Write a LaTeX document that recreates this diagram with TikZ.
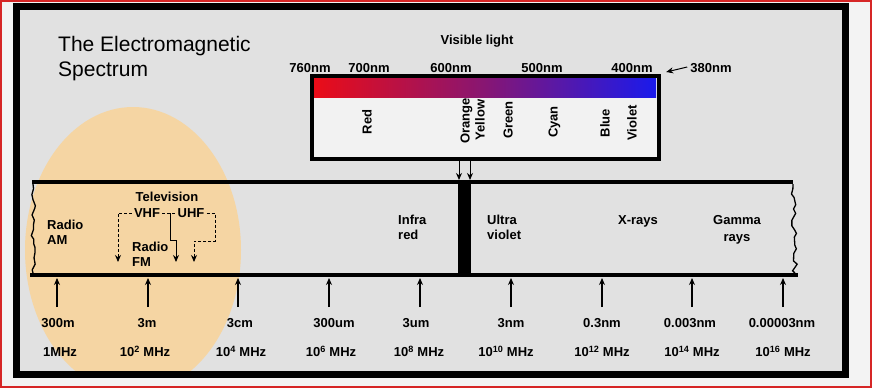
\documentclass[tikz,border=0pt]{standalone}
\usepackage{fontspec}
\setmainfont{Liberation Sans}
\usetikzlibrary{arrows.meta,decorations.pathmorphing}
\definecolor{outerbg}{RGB}{243,243,243}
\definecolor{innerbg}{RGB}{225,225,225}
\definecolor{peach}{RGB}{245,213,163}
\definecolor{edgered}{RGB}{214,38,38}
\definecolor{specred}{RGB}{236,12,22}
\definecolor{specmid}{RGB}{136,22,114}
\definecolor{specblue}{RGB}{26,26,236}
\definecolor{boxfill}{RGB}{242,242,242}
\begin{document}
\begin{tikzpicture}[x=1pt,y=-1pt,
  lbl/.style={font=\fontsize{13}{15}\selectfont\bfseries, inner sep=0pt, text height=9.3pt, text depth=0pt},
  ttl/.style={font=\fontsize{21}{25}\selectfont, inner sep=0pt, anchor=base west},
  tip/.style={-{Stealth[length=7pt,width=6pt]}},
  upar/.style={line width=1.1pt, tip},
  dnar/.style={line width=1pt, tip},
  bandline/.style={line width=4pt},
  wavy/.style={line width=1.3pt, decorate, decoration={random steps, segment length=5pt, amplitude=2.4pt}},
  tvline/.style={line width=1pt, densely dashed},
  tvsolid/.style={line width=1pt}
]
\useasboundingbox (0,0) rectangle (872,388);
\fill[outerbg] (0,0) rectangle (872,388);
\draw[edgered, line width=2pt] (1,1) rectangle (871,387);
\fill[innerbg] (16,6) rectangle (845,374);
\begin{scope}
  \clip (20,10) rectangle (841,370);
  \fill[peach] (133,250) ellipse [x radius=108, y radius=143];
\end{scope}
\draw[line width=7pt] (16.5,6) rectangle (845,374);

% title
\node[ttl] (t1) at (58,51) {The Electromagnetic};
\node[ttl] (t2) at (58,76) {Spectrum};

% visible light
\node[lbl] (vis) at (477,40) {Visible light};
\node[lbl] (nm760) at (310,68) {760nm};
\node[lbl] (nm700) at (369,68) {700nm};
\node[lbl] (nm600) at (451,68) {600nm};
\node[lbl] (nm500) at (542,68) {500nm};
\node[lbl] (nm400) at (632,68) {400nm};
\node[lbl] (nm380) at (711,68) {380nm};
\draw[dnar] ([xshift=-3pt,yshift=1pt]nm380.west) -- ++(-21,5);

\fill[boxfill] (310,74) rectangle (657,157);
\shade[left color=specred, right color=specblue, middle color=specmid] (311,76) rectangle (656,97);
\node[draw, line width=3.5pt, minimum width=347pt, minimum height=83pt, inner sep=0pt, anchor=north west] (vbox) at (310,74) {};

\node[lbl, rotate=90] (cred) at (367,122) {Red};
\node[lbl, rotate=90] (corange) at (465,121) {Orange};
\node[lbl, rotate=90] (cyellow) at (480,120) {Yellow};
\node[lbl, rotate=90] (cgreen) at (508,120) {Green};
\node[lbl, rotate=90] (ccyan) at (553,122) {Cyan};
\node[lbl, rotate=90] (cblue) at (605,123) {Blue};
\node[lbl, rotate=90] (cviolet) at (632,123) {Violet};

% band
\draw[bandline] (32,182) -- (793,182);
\draw[bandline] (30,275) -- (798,275);
\pgfmathsetseed{7}
\draw[wavy] (33,184) -- (33,273);
\draw[wavy] (793,184) -- (795,273);
\fill (458,180) rectangle (471,277);

\coordinate (o1) at (459,158);
\coordinate (o2) at (470,158);
\coordinate (i1) at (459,180);
\coordinate (i2) at (470,180);
\draw[dnar] (o1) -- (i1);
\draw[dnar] (o2) -- (i2);

% band labels
\node[lbl, anchor=west] (am1) at (47,225) {Radio};
\node[lbl, anchor=west] (am2) at (47,240) {AM};
\node[lbl] (tv) at (167,197) {Television};
\node[lbl] (vhf) at (147,213) {VHF};
\node[lbl] (uhf) at (191,213) {UHF};
\node[lbl, anchor=west] (fm1) at (132,247) {Radio};
\node[lbl, anchor=west] (fm2) at (132,262) {FM};
\coordinate (vl) at (118,262);
\draw[tvline, tip] ([xshift=-2pt]vhf.west) -| (vl);
\draw[tvline] ([xshift=2pt]vhf.east) -- ([xshift=-2pt]uhf.west);
\coordinate (tj) at (170,213);
\coordinate (tend) at (176,262);
\draw[tvsolid, tip] (tj) -- (170,240) -| (tend);
\coordinate (ur) at (215,213);
\coordinate (uend) at (194,262);
\draw[tvline, tip] ([xshift=2pt]uhf.east) -- (ur) -- (215,241) -| (uend);

\node[lbl, anchor=west] (ir1) at (398,220) {Infra};
\node[lbl, anchor=west] (ir2) at (398,235) {red};
\node[lbl, anchor=west] (uv1) at (487,220) {Ultra};
\node[lbl, anchor=west] (uv2) at (487,235) {violet};
\node[lbl] (xr) at (638,220) {X-rays};
\node[lbl] (gr1) at (737,220) {Gamma};
\node[lbl] (gr2) at (737,237) {rays};

% scale
\foreach \x/\wx/\w/\fx/\f [count=\i] in {
  57/58/300m/60/1MHz,
  148/147/3m/145/10\textsuperscript{2} MHz,
  238/240/3cm/241/10\textsuperscript{4} MHz,
  329/334/300um/331/10\textsuperscript{6} MHz,
  420/416/3um/419/10\textsuperscript{8} MHz,
  511/511/3nm/506/10\textsuperscript{10} MHz,
  602/602/0.3nm/602/10\textsuperscript{12} MHz,
  692/690/0.003nm/692/10\textsuperscript{14} MHz,
  783/782/0.00003nm/783/10\textsuperscript{16} MHz}{
  \coordinate (ab\i) at (\x,307);
  \coordinate (at\i) at (\x,278);
  \draw[upar] (ab\i) -- (at\i);
  \node[lbl] (w\i) at (\wx,323) {\w};
  \node[lbl] (f\i) at (\fx,352) {\f};
}
\end{tikzpicture}
\end{document}
